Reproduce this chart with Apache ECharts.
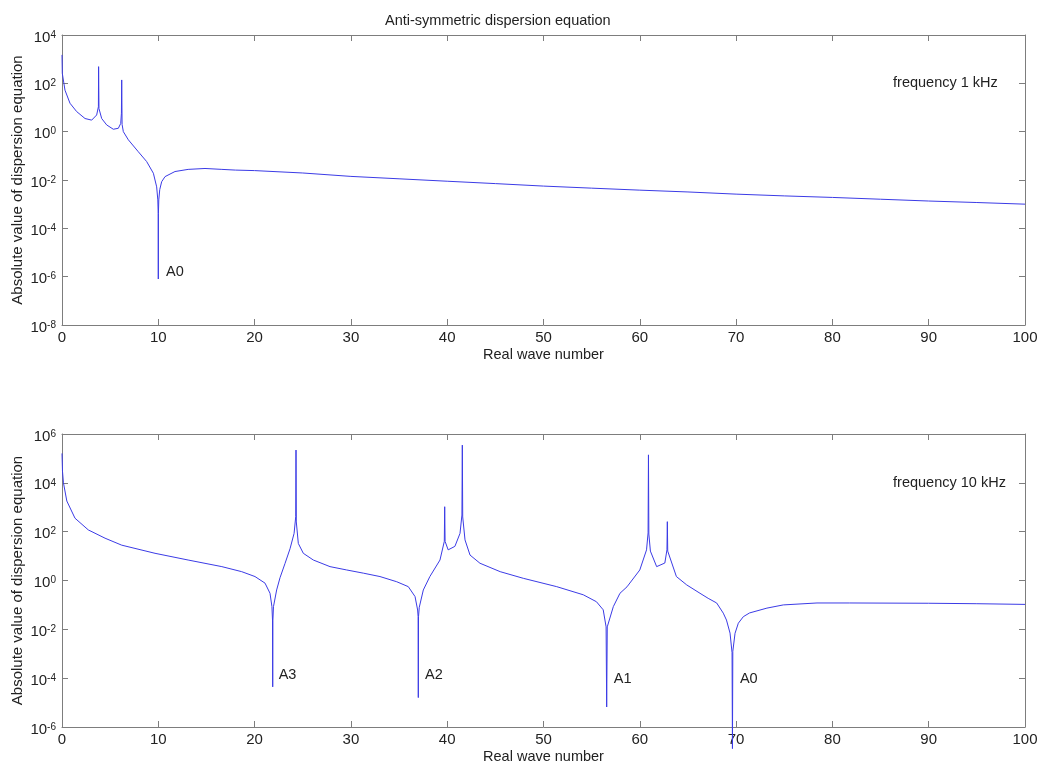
<!DOCTYPE html>
<html>
<head>
<meta charset="utf-8">
<script src="https://cdn.jsdelivr.net/npm/echarts@6/dist/echarts.min.js"></script>
<style>
html,body{margin:0;padding:0;background:#fff;}
#chart{width:1045px;height:764px;}
</style>
</head>
<body>
<div id="chart"></div>
<script>
// ---- Data ----
const titleText = 'Anti-symmetric dispersion equation';
const xName = 'Real wave number';
const yName = 'Absolute value of dispersion equation';

// Top panel: frequency 1 kHz
const topK = [0, 0.03, 0.31, 0.83, 1.52, 2.39, 3.08, 3.6, 3.78, 3.8, 3.84, 4.12, 4.64, 5.33, 5.85, 6.1, 6.17, 6.2, 6.24, 6.37, 6.89, 7.92, 8.79, 9.49, 9.83, 9.95, 9.99, 10.0, 10.01, 10.05, 10.15, 10.35, 10.7, 11.73, 13.1, 14.85, 16.6, 18, 20, 25, 30, 35, 40, 45, 50, 55, 60, 65, 70, 75, 80, 85, 90, 95, 100];
const topVal = [1500, 260, 52, 15, 6.8, 3.5, 3.0, 4.9, 10.7, 490, 9.0, 3.5, 1.9, 1.26, 1.38, 2.2, 5.8, 138, 2.0, 1.0, 0.46, 0.148, 0.058, 0.019, 0.0052, 0.0015, 0.0004, 8e-7, 0.0004, 0.0015, 0.004, 0.0085, 0.0138, 0.0224, 0.0275, 0.030, 0.0275, 0.0257, 0.0245, 0.0195, 0.0141, 0.0112, 0.0089, 0.0071, 0.0056, 0.0046, 0.0038, 0.0032, 0.0026, 0.0022, 0.0019, 0.0016, 0.00135, 0.00117, 0.001];

// Bottom panel: frequency 10 kHz
const botK = [0, 0.05, 0.15, 0.5, 1.35, 2.73, 4.47, 6.2, 9.66, 13.1, 16.6, 18.66, 20.04, 21.08, 21.6, 21.8, 21.86, 21.88, 21.9, 21.96, 22.29, 22.64, 23.16, 23.68, 24.1, 24.27, 24.3, 24.33, 24.54, 25.06, 26.1, 27.83, 29.56, 31.29, 33.02, 34.76, 35.96, 36.66, 36.93, 36.98, 37.0, 37.02, 37.1, 37.52, 38.2, 39.25, 39.7, 39.74, 39.78, 40.1, 40.8, 41.33, 41.53, 41.57, 41.61, 41.85, 42.37, 43.4, 45.5, 47.9, 51.37, 54.13, 55.5, 56.2, 56.5, 56.56, 56.62, 57.25, 57.94, 58.67, 60.0, 60.7, 60.86, 60.9, 60.94, 61.1, 61.75, 62.6, 62.82, 62.86, 62.9, 63.8, 64.87, 66.25, 67.1, 67.98, 68.67, 69.0, 69.37, 69.58, 69.62, 69.66, 69.89, 70.23, 70.75, 71.4, 73.2, 74.9, 78.4, 81.8, 90, 95, 100];
const botVal = [1.6e5, 3.0e4, 1.0e4, 1800, 355, 118, 54, 28, 13, 6.9, 3.7, 2.3, 1.45, 0.78, 0.3, 0.085, 0.024, 4.4e-5, 0.024, 0.085, 0.41, 1.3, 5.0, 20, 85, 410, 2.2e5, 250, 33, 13, 6.9, 3.7, 2.7, 2.0, 1.45, 0.89, 0.56, 0.22, 0.062, 0.033, 1.6e-5, 0.033, 0.08, 0.41, 1.45, 6.9, 40, 1050, 40, 18, 25, 85, 480, 3.5e5, 400, 46, 11, 5.1, 2.3, 1.23, 0.56, 0.26, 0.135, 0.063, 0.0126, 6.6e-6, 0.0126, 0.085, 0.3, 0.55, 2.7, 18, 89, 1.4e5, 80, 16, 3.7, 5.2, 18, 257, 16, 1.45, 0.66, 0.3, 0.186, 0.12, 0.046, 0.024, 0.007, 0.0011, 1.3e-7, 0.00126, 0.0069, 0.0178, 0.033, 0.047, 0.074, 0.1, 0.12, 0.12, 0.117, 0.112, 0.105];

// Annotations: [x, y, text]
const topNotes = [[10.8, 1.6e-6, 'A0'], [86.3, 100, 'frequency 1 kHz']];
const botNotes = [[22.5, 1.35e-4, 'A3'], [37.7, 1.35e-4, 'A2'], [57.3, 9.3e-5, 'A1'], [70.4, 9.3e-5, 'A0'], [86.3, 1e4, 'frequency 10 kHz']];

// Axis ranges
const xMin = 0, xMax = 100, xStep = 10;
const topYMin = 1e-8, topYMax = 1e4;
const botYMin = 1e-6, botYMax = 1e6;
const yStepDecades = 2;

// ---- Build chart ----
const FONT = '"Liberation Sans", Arial, sans-serif';
const AXIS_COLOR = '#7d7d7d';
const TEXT_COLOR = '#222';
const LINE_COLOR = '#3b3be6';
const TXT = 14.5;

function zip(a, b) { return a.map((v, i) => [v, b[i]]); }

function expLabel(v) {
  const e = Math.round(Math.log10(v));
  return '{b|10}{s|' + e + '}';
}
const richExp = {
  b: { fontSize: 15, fontFamily: FONT, color: TEXT_COLOR, lineHeight: 15 },
  s: { fontSize: 10, fontFamily: FONT, color: TEXT_COLOR, lineHeight: 15, verticalAlign: 'top' }
};

const grids = [
  { left: 62, right: 20, top: 35, height: 290, containLabel: false, outerBoundsMode: 'none' },
  { left: 62, right: 20, top: 434, height: 293, containLabel: false, outerBoundsMode: 'none' }
];

function xAxes(gi) {
  return [
    {
      type: 'value', gridIndex: gi, min: xMin, max: xMax, interval: xStep, position: 'bottom',
      name: xName, nameLocation: 'middle', nameGap: 22, nameMoveOverlap: false,
      nameTextStyle: { fontSize: TXT, fontFamily: FONT, color: TEXT_COLOR },
      axisLine: { lineStyle: { color: AXIS_COLOR } },
      axisTick: { inside: true, length: 6, lineStyle: { color: AXIS_COLOR } },
      axisLabel: { fontSize: 15, fontFamily: FONT, color: TEXT_COLOR, margin: 5 },
      splitLine: { show: false }
    },
    {
      type: 'value', gridIndex: gi, min: xMin, max: xMax, interval: xStep, position: 'top',
      axisLine: { onZero: false, lineStyle: { color: AXIS_COLOR } },
      axisTick: { inside: true, length: 6, lineStyle: { color: AXIS_COLOR } },
      axisLabel: { show: false },
      splitLine: { show: false }
    }
  ];
}
function yAxes(gi, mn, mx) {
  return [
    {
      type: 'log', logBase: 10, gridIndex: gi, min: mn, max: mx, interval: yStepDecades, position: 'left',
      name: yName, nameLocation: 'middle', nameGap: 37, nameRotate: 90, nameMoveOverlap: false,
      nameTextStyle: { fontSize: 15, fontFamily: FONT, color: TEXT_COLOR },
      axisLine: { onZero: false, lineStyle: { color: AXIS_COLOR } },
      axisTick: { inside: true, length: 6, lineStyle: { color: AXIS_COLOR } },
      axisLabel: { formatter: expLabel, rich: richExp, margin: 6, padding: [5, 0, 0, 0] },
      splitLine: { show: false }
    },
    {
      type: 'log', logBase: 10, gridIndex: gi, min: mn, max: mx, interval: yStepDecades, position: 'right',
      axisLine: { onZero: false, lineStyle: { color: AXIS_COLOR } },
      axisTick: { inside: true, length: 6, lineStyle: { color: AXIS_COLOR } },
      axisLabel: { show: false },
      splitLine: { show: false }
    }
  ];
}

function notesMark(notes) {
  return {
    silent: true,
    symbol: 'circle', symbolSize: 0,
    label: {
      show: true, position: 'right', distance: 0,
      fontSize: TXT, fontFamily: FONT, color: TEXT_COLOR,
      formatter: p => p.name
    },
    data: notes.map(n => ({ coord: [n[0], n[1]], name: n[2] }))
  };
}

const option = {
  animation: false,
  backgroundColor: '#fff',
  title: {
    text: titleText, left: 380, top: 8,
    textStyle: { fontSize: TXT, fontWeight: 'normal', fontFamily: FONT, color: TEXT_COLOR }
  },
  grid: grids,
  xAxis: [...xAxes(0), ...xAxes(1)],
  yAxis: [...yAxes(0, topYMin, topYMax), ...yAxes(1, botYMin, botYMax)],
  series: [
    {
      type: 'line', xAxisIndex: 0, yAxisIndex: 0, showSymbol: false, symbol: 'none',
      lineStyle: { color: LINE_COLOR, width: 1 }, data: zip(topK, topVal),
      markPoint: notesMark(topNotes)
    },
    {
      type: 'line', xAxisIndex: 2, yAxisIndex: 2, showSymbol: false, symbol: 'none', clip: false,
      lineStyle: { color: LINE_COLOR, width: 1 }, data: zip(botK, botVal),
      markPoint: notesMark(botNotes)
    }
  ]
};

const chart = echarts.init(document.getElementById('chart'), null, { renderer: 'canvas' });
chart.setOption(option);
</script>
</body>
</html>
